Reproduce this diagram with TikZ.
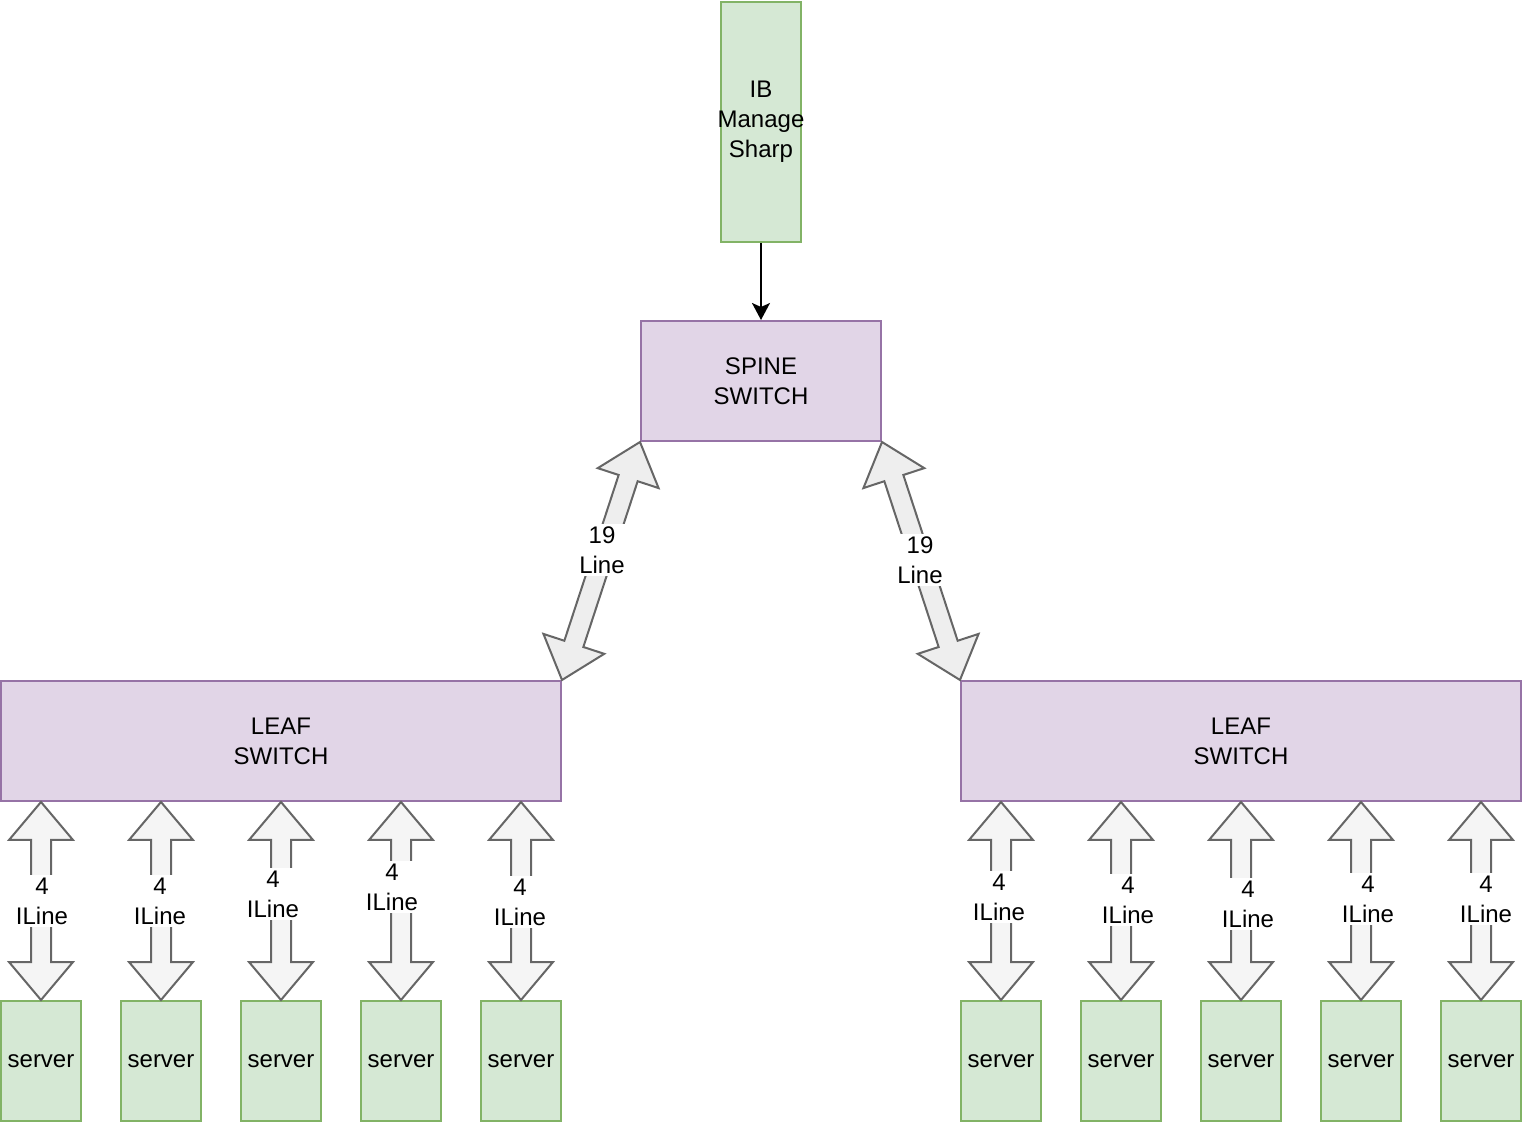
\documentclass[tikz,border=0pt]{standalone}
\usepackage{fontspec}
\setmainfont{Liberation Sans}
\usepackage{xcolor}
\usetikzlibrary{calc,arrows.meta}
\definecolor{srvfill}{HTML}{D5E8D4}
\definecolor{srvline}{HTML}{82B366}
\definecolor{swfill}{HTML}{E1D5E7}
\definecolor{swline}{HTML}{9673A6}
\definecolor{arrline}{HTML}{666666}
\definecolor{arrfill}{HTML}{F5F5F5}
\definecolor{diagfill}{HTML}{EEEEEE}
\tikzstyle{server}=[draw=srvline,fill=srvfill,line width=1pt,minimum width=40pt,minimum height=60pt,inner sep=0,align=center]
\tikzstyle{switch}=[draw=swline,fill=swfill,line width=1pt,minimum height=60pt,inner sep=0,align=center]
\tikzstyle{block}=[draw=arrline,fill=arrfill,line width=1pt,line join=miter]
\tikzstyle{lbl}=[fill=white,inner sep=1.5pt,align=center]
\def\blockarrow#1#2#3{%
    \path let \p1=(#1), \p2=(#2), \n1={atan2(\y2-\y1,\x2-\x1)}, \n2={veclen(\x2-\x1,\y2-\y1)} in
        \pgfextra{\xdef\baang{\n1}\xdef\balen{\n2}};
    \begin{scope}[shift={(#1)},rotate=\baang]
        \draw[block,#3] (0pt,0pt) -- (19pt,16pt) -- (19pt,5pt) -- ({\balen-19pt},5pt) -- ({\balen-19pt},16pt)
            -- (\balen,0pt) -- ({\balen-19pt},-16pt) -- ({\balen-19pt},-5pt) -- (19pt,-5pt) -- (19pt,-16pt) -- cycle;
    \end{scope}}

\begin{document}
\begin{tikzpicture}[x=0.5pt,y=-0.5pt,every node/.style={font=\fontsize{12}{15}\selectfont}]
    \useasboundingbox (0,0) rectangle (1522,1122);

    \node[server,minimum height=120pt,inner xsep=-5pt] (ib) at (761,122) {IB\\Manage\\Sharp};
    \node[switch,minimum width=120pt] (spine) at (761,381) {SPINE\\SWITCH};
    \node[switch,minimum width=280pt] (leafL) at (281,741) {LEAF\\SWITCH};
    \node[switch,minimum width=280pt] (leafR) at (1241,741) {LEAF\\SWITCH};

    \foreach \i in {1,...,5}{
        \node[server] (srvL\i) at ({120*\i-79},1061) {server};
        \node[server] (srvR\i) at ({120*\i+881},1061) {server};
        \coordinate (topL\i) at (srvL\i.north |- leafL.south);
        \coordinate (topR\i) at (srvR\i.north |- leafR.south);
    }

    \draw[-{Stealth[length=8.5pt,width=9pt,inset=2pt]},line width=1pt] (ib) -- (spine);

    \blockarrow{spine.south west}{leafL.north east}{fill=diagfill}
    \blockarrow{spine.south east}{leafR.north west}{fill=diagfill}
    \node[lbl] (lineL) at (602,550) {19\\Line};
    \node[lbl] (lineR) at (920,560) {19\\Line};

    \foreach \i/\lx/\ly in {1/42/901,2/160/901,3/273/894,4/392/887,5/520/902}{
        \blockarrow{topL\i}{srvL\i.north}{}
        \node[lbl] (ilL\i) at (\lx,\ly) {4\\ILine};
    }
    \foreach \i/\lx/\ly in {1/999/897,2/1128/900,3/1248/904,4/1368/899,5/1486/899}{
        \blockarrow{topR\i}{srvR\i.north}{}
        \node[lbl] (ilR\i) at (\lx,\ly) {4\\ILine};
    }
\end{tikzpicture}
\end{document}
